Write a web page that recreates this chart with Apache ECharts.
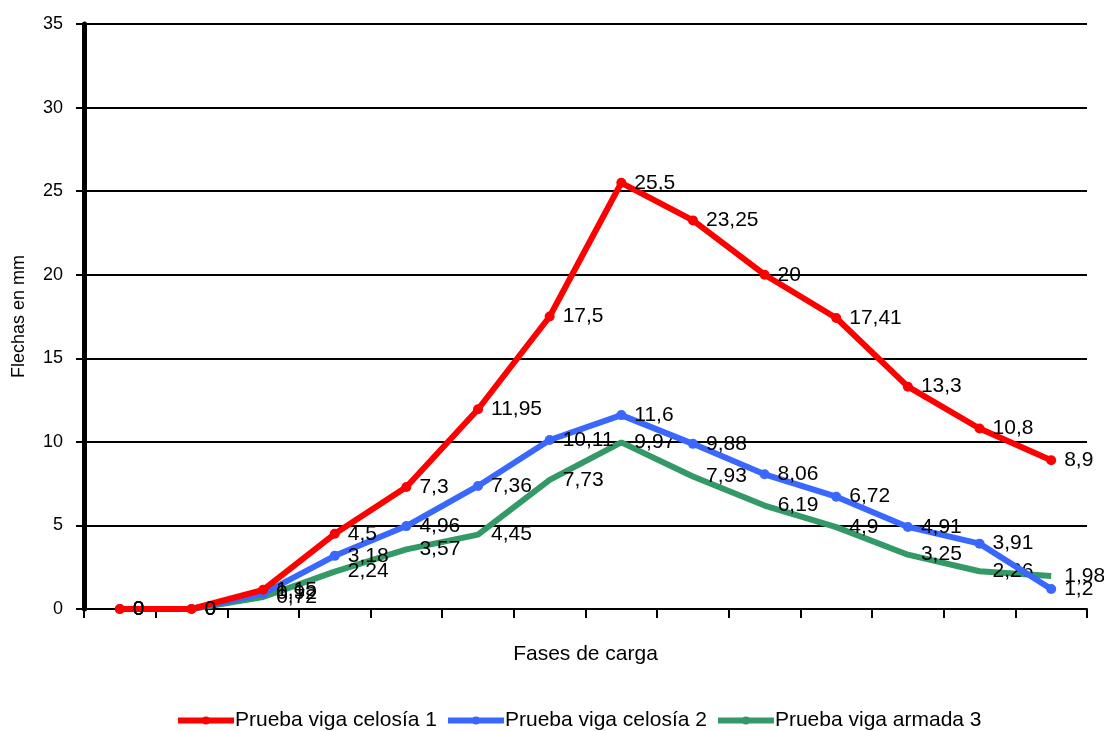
<!DOCTYPE html>
<html>
<head>
<meta charset="utf-8">
<script src="https://cdn.jsdelivr.net/npm/echarts@6/dist/echarts.min.js"></script>
<style>
  html, body { margin: 0; padding: 0; background: #fff; }
  #chart { width: 1104px; height: 731px; }
</style>
</head>
<body>
<div id="chart"></div>
<script>
// fases de carga (sin etiqueta en el eje)
const fases = ['1', '2', '3', '4', '5', '6', '7', '8', '9', '10', '11', '12', '13', '14']
const celosia1 = [0, 0, 1.15, 4.5, 7.3, 11.95, 17.5, 25.5, 23.25, 20, 17.41, 13.3, 10.8, 8.9]
const celosia2 = [0, 0, 0.92, 3.18, 4.96, 7.36, 10.11, 11.6, 9.88, 8.06, 6.72, 4.91, 3.91, 1.2]
const armada3 = [0, 0, 0.72, 2.24, 3.57, 4.45, 7.73, 9.97, 7.93, 6.19, 4.9, 3.25, 2.26, 1.98]

const nombres = ['Prueba viga celosía 1', 'Prueba viga celosía 2', 'Prueba viga armada 3']
const colores = ['#ff0000', '#3a68ff', '#339966']
const datos = [celosia1, celosia2, armada3]

const fuente = 'Liberation Sans, Arial, sans-serif'

let series = []
datos.forEach((d, i) => {
  series.push({
    name: nombres[i],
    type: 'line',
    data: d,
    color: colores[i],
    symbol: 'circle',
    symbolSize: i < 2 ? 10 : 0.1,
    lineStyle: { width: 6 },
    z: 3 - i,
    label: {
      show: true,
      position: 'right',
      distance: i < 2 ? 8 : 13,
      color: '#000',
      fontSize: 21,
      fontFamily: fuente,
      formatter: (p) => String(p.value).replace('.', ','),
    },
  })
})

const chart = echarts.init(document.getElementById('chart'))
chart.setOption({
  animation: false,
  textStyle: { fontFamily: fuente },
  grid: { left: 84, right: 17, top: 24, bottom: 122 },
  legend: {
    top: 705,
    left: 170,
    itemWidth: 56,
    itemHeight: 10,
    itemGap: 8,
    lineStyle: { width: 6 },
    textStyle: { fontSize: 21, color: '#000', fontFamily: fuente, padding: [0, 0, 0, -4] },
    data: nombres,
  },
  xAxis: {
    type: 'category',
    data: fases,
    boundaryGap: true,
    name: 'Fases de carga',
    nameLocation: 'middle',
    nameGap: 35,
    nameTextStyle: { fontSize: 21, color: '#000', fontFamily: fuente },
    axisLine: { lineStyle: { color: '#000', width: 2 } },
    axisTick: { show: true, length: 9, lineStyle: { color: '#000', width: 2 } },
    axisLabel: { show: false },
  },
  yAxis: {
    type: 'value',
    min: 0,
    max: 35,
    interval: 5,
    name: 'Flechas en mm',
    nameLocation: 'middle',
    nameGap: 56,
    nameTextStyle: { fontSize: 18, color: '#000', fontFamily: fuente },
    axisLine: { show: true, lineStyle: { color: '#000', width: 5 } },
    axisTick: { show: true, length: 8, lineStyle: { color: '#000', width: 2 } },
    axisLabel: { color: '#000', fontSize: 18, margin: 21, fontFamily: fuente },
    splitLine: { show: true, lineStyle: { color: '#000', width: 2 } },
  },
  series: series,
})
</script>
</body>
</html>
